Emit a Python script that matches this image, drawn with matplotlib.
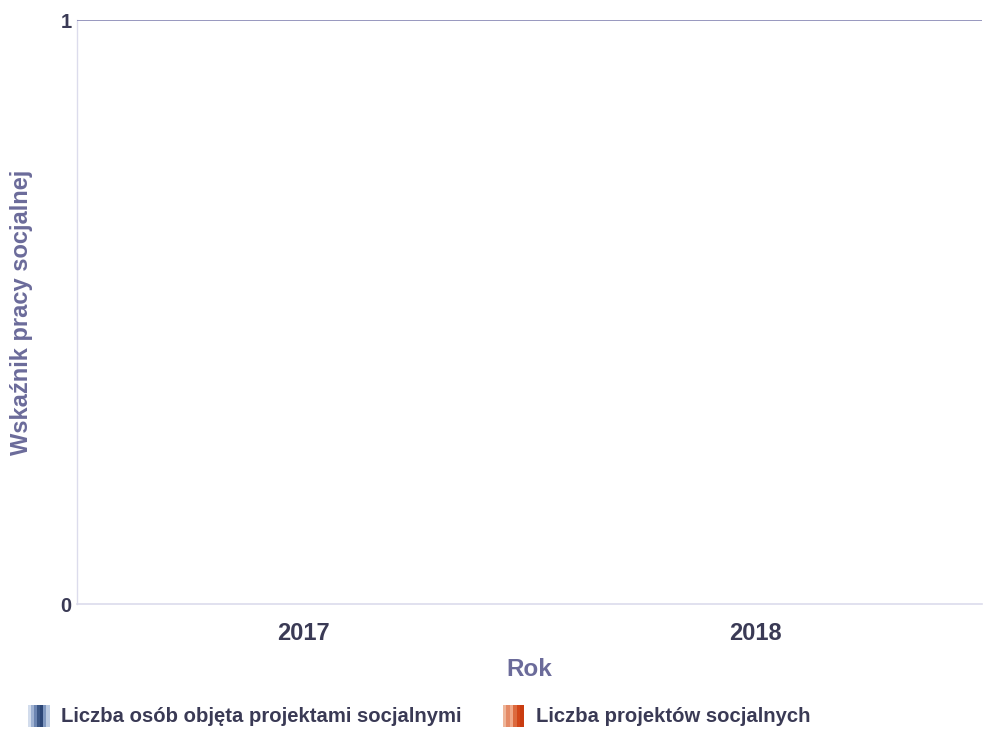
import matplotlib
matplotlib.use("Agg")
import matplotlib.pyplot as plt
from matplotlib.legend_handler import HandlerBase
from matplotlib.patches import Rectangle, Patch
import numpy as np

# chart data (both series are empty in the source)
years = ["2017", "2018"]
osoby = [0, 0]
projekty = [0, 0]
series_names = ["Liczba osób objęta projektami socjalnymi", "Liczba projektów socjalnych"]

blue_stripes = ["#d2dcec", "#9fb2d2", "#6d86b2", "#3d5886", "#2c4676", "#7f97bf", "#bccbe2"]
orange_stripes = ["#eeb69a", "#e48a66", "#f0a888", "#dc6a3e", "#d2471a", "#c93c10"]


class StripeHandler(HandlerBase):
    """draws a legend key as a block of vertical stripes"""
    def __init__(self, colors):
        super().__init__()
        self.colors = colors

    def create_artists(self, legend, orig_handle, xdescent, ydescent,
                       width, height, fontsize, trans):
        n = len(self.colors)
        w = width / n
        arts = []
        for i, c in enumerate(self.colors):
            r = Rectangle((-xdescent + i * w, -ydescent - 3.5), w + 0.3, height + 6,
                          facecolor=c, edgecolor="none", transform=trans)
            arts.append(r)
        return arts


plt.rcParams["font.family"] = ["Liberation Sans", "DejaVu Sans"]
plt.rcParams["font.weight"] = "bold"

fig = plt.figure(figsize=(9.83, 7.31), dpi=100)
ax = fig.add_axes([0.0783, 0.1737, 0.9207, 0.7989])

x = np.arange(len(years))
bw = 0.35
ax.bar(x - bw / 2, osoby, bw, color="#4f6b9c")
ax.bar(x + bw / 2, projekty, bw, color="#d2471a")

ax.set_xlim(-0.5, 1.5)
ax.set_ylim(0, 1)
ax.set_yticks([0, 1])
ax.set_xticks(x)
ax.set_xticklabels(years)

ax.tick_params(axis="both", length=0, colors="#3a3a55")
ax.tick_params(axis="x", labelsize=17, pad=13)
ax.tick_params(axis="y", labelsize=14.5, pad=4)
for lab in ax.get_xticklabels() + ax.get_yticklabels():
    lab.set_fontweight("bold")

ax.axhline(1, color="#8686b4", lw=1.2, zorder=3)
for side in ["top", "right"]:
    ax.spines[side].set_visible(False)
ax.spines["left"].set_color("#dcdcec")
ax.spines["bottom"].set_color("#dcdcec")
ax.spines["left"].set_linewidth(1.0)
ax.spines["bottom"].set_linewidth(1.2)

ax.set_xlabel("Rok", fontsize=17.5, color="#6b6b9a", fontweight="bold", labelpad=9)
ax.set_ylabel("Wskaźnik pracy socjalnej", fontsize=17, color="#6b6b9a",
              fontweight="bold", labelpad=20)

h1 = Patch()
h2 = Patch()
fig.legend([h1, h2], series_names,
           handler_map={h1: StripeHandler(blue_stripes), h2: StripeHandler(orange_stripes)},
           loc="center left", bbox_to_anchor=(0.0285, 0.0192), ncol=2, frameon=False,
           borderpad=0, borderaxespad=0,
           prop={"size": 14.6, "weight": "bold"}, labelcolor="#3a3a55",
           handlelength=1.05, handletextpad=0.6, columnspacing=2.0)

fig.savefig("out.png", dpi=100)
